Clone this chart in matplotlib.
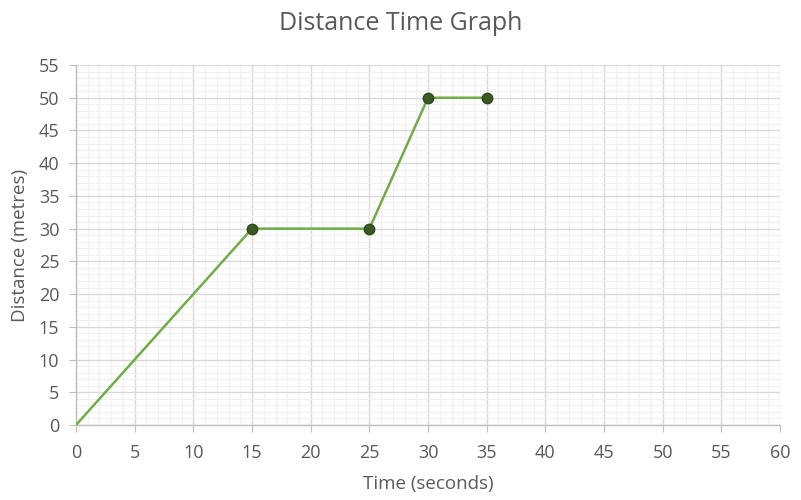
import matplotlib.pyplot as plt
from matplotlib.ticker import MultipleLocator

plt.rcParams["font.family"] = ["Open Sans", "DejaVu Sans"]

# data
time_s = [0, 15, 25, 30, 35]
distance_m = [0, 30, 30, 50, 50]
marker_time = [15, 25, 30, 35]
marker_dist = [30, 30, 50, 50]

TEXT = "#595959"

fig = plt.figure(figsize=(8.01, 5.0), dpi=100)
ax = fig.add_axes([0.0949, 0.15, 0.879, 0.72])

ax.plot(time_s, distance_m, color="#70AD47", lw=1.8, zorder=3)
ax.plot(marker_time, marker_dist, ls="none", marker="o", ms=7.5,
        color="#3A5A23", mec="#2E4A1B", zorder=4)

ax.set_xlim(0, 60)
ax.set_ylim(0, 55)
ax.xaxis.set_major_locator(MultipleLocator(5))
ax.yaxis.set_major_locator(MultipleLocator(5))
ax.xaxis.set_minor_locator(MultipleLocator(1))
ax.yaxis.set_minor_locator(MultipleLocator(1))

ax.grid(which="major", color="#D9D9D9", lw=1.0, zorder=1)
ax.grid(which="minor", color="#F0F0F0", lw=0.8, zorder=0)
ax.set_axisbelow(True)

for side in ["top", "right"]:
    ax.spines[side].set_visible(False)
for side in ["left", "bottom"]:
    ax.spines[side].set_color("#BFBFBF")
    ax.spines[side].set_linewidth(1.0)

ax.tick_params(which="major", length=5, color="#BFBFBF", labelcolor=TEXT,
               labelsize=13)
ax.tick_params(axis="x", which="major", pad=9)
ax.tick_params(axis="y", which="major", pad=7)
ax.tick_params(which="minor", length=0)

ax.set_xlabel("Time (seconds)", color=TEXT, fontsize=13.5, labelpad=9)
ax.set_ylabel("Distance (metres)", color=TEXT, fontsize=13.5, labelpad=7)
fig.suptitle("Distance Time Graph", color=TEXT, fontsize=18, y=0.978)

fig.savefig("out.png", dpi=100)
